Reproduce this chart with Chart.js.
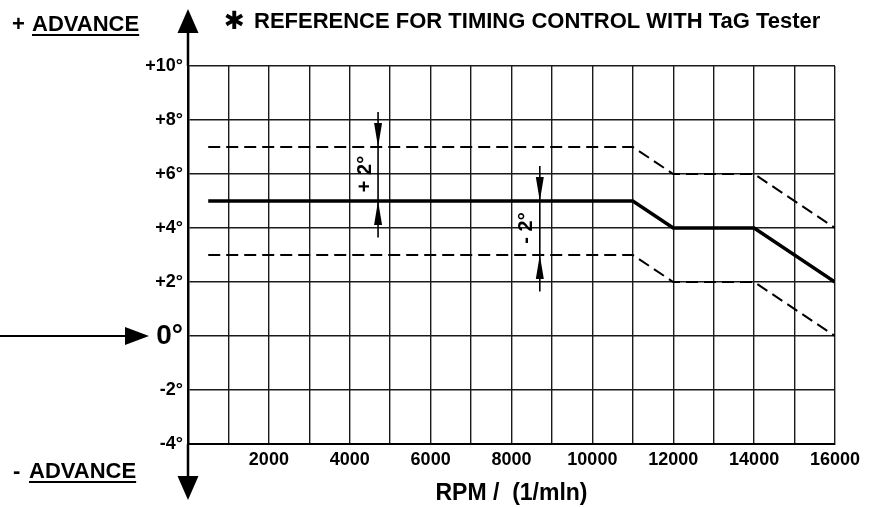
<!DOCTYPE html>
<html>
<head>
<meta charset="utf-8">
<script src="https://cdn.jsdelivr.net/npm/chart.js@4.4.1/dist/chart.umd.min.js"></script>
<style>
  html, body { margin: 0; padding: 0; background: #fff; }
  canvas { display: block; }
</style>
</head>
<body>
<canvas id="timingChart" width="873" height="507"></canvas>
<script>
// ignition advance vs engine speed
const rpm = [500, 11000, 12000, 14000, 16000];
const nominal = [5, 5, 4, 4, 2];
const upperLimit = [7, 7, 6, 6, 4];
const lowerLimit = [3, 3, 2, 2, 0];

const yTickValues = [-4, -2, 0, 2, 4, 6, 8, 10];
const yTickLabels = ['-4°', '-2°', '0°', '+2°', '+4°', '+6°', '+8°', '+10°'];
const xTickLabels = [2000, 4000, 6000, 8000, 10000, 12000, 14000, 16000];

// the two "± 2°" tolerance markers
const markRpm = [4700, 8700];
const markTop = [7, 5];
const markBottom = [5, 3];
const markText = ['+ 2°', '- 2°'];

const FONT = '"Liberation Sans", Arial, Helvetica, sans-serif';

function toPoints(ys) {
    return rpm.map((x, i) => ({ x: x, y: ys[i] }));
}

function arrowHead(ctx, x, y, dir, len, half) {
    ctx.beginPath();
    ctx.moveTo(x, y);
    if (dir === 'up') {
        ctx.lineTo(x - half, y + len);
        ctx.lineTo(x + half, y + len);
    } else if (dir === 'down') {
        ctx.lineTo(x - half, y - len);
        ctx.lineTo(x + half, y - len);
    } else {
        ctx.lineTo(x - len, y - half);
        ctx.lineTo(x - len, y + half);
    }
    ctx.closePath();
    ctx.fill();
}

const decorations = {
    id: 'decorations',
    afterDraw(chart) {
        const ctx = chart.ctx;
        const area = chart.chartArea;
        const xs = chart.scales.x;
        const ys = chart.scales.y;
        ctx.save();
        ctx.fillStyle = '#000';
        ctx.strokeStyle = '#000';

        // vertical axis arrows
        ctx.lineWidth = 2.5;
        ctx.beginPath();
        ctx.moveTo(area.left, 30);
        ctx.lineTo(area.left, area.top);
        ctx.moveTo(area.left, area.bottom);
        ctx.lineTo(area.left, 478);
        ctx.stroke();
        arrowHead(ctx, area.left, 9, 'up', 24, 10.5);
        arrowHead(ctx, area.left, 500, 'down', 24, 10.5);

        // pointer to 0°
        const y0 = ys.getPixelForValue(0);
        ctx.lineWidth = 2;
        ctx.beginPath();
        ctx.moveTo(0, y0);
        ctx.lineTo(128, y0);
        ctx.stroke();
        arrowHead(ctx, 149, y0, 'right', 24, 9);

        // tolerance markers
        for (let i = 0; i < markRpm.length; i++) {
            const x = xs.getPixelForValue(markRpm[i]);
            const yT = ys.getPixelForValue(markTop[i]);
            const yB = ys.getPixelForValue(markBottom[i]);
            ctx.lineWidth = 1.6;
            ctx.beginPath();
            ctx.moveTo(x, ys.getPixelForValue(markTop[i] + 1.3));
            ctx.lineTo(x, ys.getPixelForValue(markBottom[i] - 1.35));
            ctx.stroke();
            arrowHead(ctx, x, yT, 'down', 24, 4);
            arrowHead(ctx, x, yB, 'up', 24, 4);

            ctx.save();
            ctx.translate(x - 13, (yT + yB) / 2);
            ctx.rotate(-Math.PI / 2);
            ctx.font = 'bold 20px ' + FONT;
            ctx.textAlign = 'center';
            ctx.textBaseline = 'middle';
            ctx.fillText(markText[i], 0, 0);
            ctx.restore();
        }

        // side labels
        ctx.font = 'bold 22px ' + FONT;
        ctx.textAlign = 'left';
        ctx.textBaseline = 'alphabetic';
        const w = ctx.measureText('ADVANCE').width;
        ctx.fillText('+', 12, 31);
        ctx.fillText('ADVANCE', 32, 31);
        ctx.fillRect(32, 34, w, 2);
        ctx.fillText('-', 13, 478);
        ctx.fillText('ADVANCE', 29, 478);
        ctx.fillRect(29, 481, w, 2);

        // heading
        ctx.font = '25px DejaVu Sans';
        ctx.fillText('✱', 224, 29);
        ctx.font = 'bold 22px ' + FONT;
        ctx.fillText('REFERENCE FOR TIMING CONTROL WITH TaG Tester', 254, 28);
        ctx.restore();
    }
};

new Chart(document.getElementById('timingChart'), {
    type: 'line',
    data: {
        datasets: [
            {
                label: 'Nominal',
                data: toPoints(nominal),
                borderColor: '#000',
                borderWidth: 3.5,
                pointRadius: 0,
                tension: 0
            },
            {
                label: 'Upper limit',
                data: toPoints(upperLimit),
                borderColor: '#000',
                borderWidth: 2,
                borderDash: [12, 6],
                pointRadius: 0,
                tension: 0
            },
            {
                label: 'Lower limit',
                data: toPoints(lowerLimit),
                borderColor: '#000',
                borderWidth: 2,
                borderDash: [12, 6],
                pointRadius: 0,
                tension: 0
            }
        ]
    },
    options: {
        responsive: false,
        devicePixelRatio: 1,
        animation: false,
        layout: { padding: { top: 66, right: 38, left: 0, bottom: 0 } },
        plugins: {
            legend: { display: false },
            tooltip: { enabled: false }
        },
        scales: {
            x: {
                type: 'linear',
                min: 0,
                max: 16000,
                afterFit(scale) { scale.height = 63; },
                afterBuildTicks(scale) {
                    const ticks = [];
                    for (let v = 0; v <= 16000; v += 1000) ticks.push({ value: v });
                    scale.ticks = ticks;
                },
                ticks: {
                    autoSkip: false,
                    maxRotation: 0,
                    padding: 5,
                    color: '#000',
                    font: { family: FONT, weight: 'bold', size: 18 },
                    callback: (v) => xTickLabels.includes(v) ? String(v) : ''
                },
                grid: { color: '#1a1a1a', lineWidth: 1.4, drawTicks: false },
                border: { color: '#000', width: 2 },
                title: {
                    display: true,
                    text: 'RPM /  (1/mln)',
                    color: '#000',
                    font: { family: FONT, weight: 'bold', size: 23 },
                    padding: { top: 0, bottom: 0 }
                }
            },
            y: {
                min: -4,
                max: 10,
                afterFit(scale) { scale.width = 188; },
                afterBuildTicks(scale) {
                    scale.ticks = yTickValues.map(v => ({ value: v }));
                },
                ticks: {
                    padding: 5,
                    color: '#000',
                    font: (c) => ({
                        family: FONT,
                        weight: 'bold',
                        size: c.tick && c.tick.value === 0 ? 28 : 18
                    }),
                    callback: (v) => yTickLabels[yTickValues.indexOf(v)]
                },
                grid: { color: '#1a1a1a', lineWidth: 1.4, drawTicks: false },
                border: { color: '#000', width: 2.5 }
            }
        }
    },
    plugins: [decorations]
});
</script>
</body>
</html>
